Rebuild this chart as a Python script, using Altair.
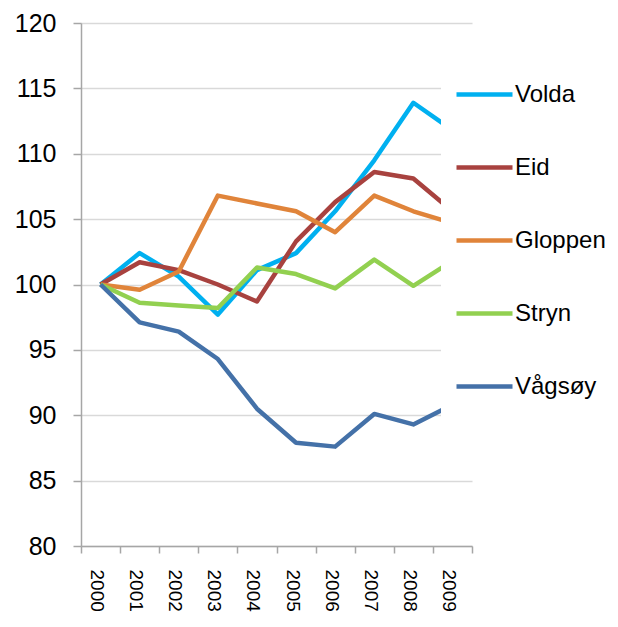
import altair as alt
import pandas as pd

years = ["2000", "2001", "2002", "2003", "2004", "2005", "2006", "2007", "2008", "2009"]
series_names = ["Volda", "Eid", "Gloppen", "Stryn", "Vågsøy"]
volda = [100, 102.4, 100.6, 97.7, 101.1, 102.4, 105.6, 109.5, 113.9, 111.8]
eid = [100, 101.7, 101.1, 100.0, 98.7, 103.3, 106.3, 108.6, 108.1, 105.6]
gloppen = [100, 99.6, 101.0, 106.8, 106.2, 105.6, 104.0, 106.8, 105.6, 104.7]
stryn = [100, 98.6, 98.4, 98.2, 101.3, 100.8, 99.7, 101.9, 99.9, 101.8]
vagsoy = [100, 97.1, 96.4, 94.3, 90.5, 87.9, 87.6, 90.1, 89.3, 90.8]
colors = ["#00B0F0", "#A8423F", "#E0843A", "#92D050", "#4471A8"]
y_ticks = [80, 85, 90, 95, 100, 105, 110, 115, 120]

rows = []
for name, vals in zip(series_names, [volda, eid, gloppen, stryn, vagsoy]):
    for yr, v in zip(years, vals):
        rows.append({"year": yr, "value": v, "series": name})
df = pd.DataFrame(rows)

FONT = "Liberation Sans"
GRAY = "#A6A6A6"

chart = alt.Chart(df).mark_line(strokeWidth=4.5, strokeJoin="round").encode(
    x=alt.X(
        "year:O",
        sort=years,
        scale=alt.Scale(type="band", paddingInner=0, paddingOuter=0),
        axis=alt.Axis(
            title=None, labelAngle=90, labelAlign="left", labelBaseline="middle",
            labelFontSize=19, labelFont=FONT, labelColor="black", labelPadding=16,
            labelOffset=-4, tickBand="extent", tickSize=7, tickColor=GRAY,
            tickWidth=1.5, domainColor=GRAY, domainWidth=1.5, grid=False,
        ),
    ),
    y=alt.Y(
        "value:Q",
        scale=alt.Scale(domain=[80, 120], nice=False, zero=False),
        axis=alt.Axis(
            title=None, values=y_ticks, labelFontSize=25, labelFont=FONT,
            labelColor="black", labelPadding=17, tickSize=8, tickColor=GRAY,
            tickWidth=1.5, domainColor=GRAY, domainWidth=1.5,
            gridColor="#D9D9D9", gridWidth=1.5,
        ),
    ),
    color=alt.Color(
        "series:N",
        scale=alt.Scale(domain=series_names, range=colors),
        legend=alt.Legend(
            title=" ", titleOrient="bottom", titleFontSize=24, titlePadding=10,
            orient="none", legendX=360, legendY=28,
            fillColor="white", padding=13, symbolType="stroke",
            symbolSize=3136, symbolStrokeWidth=4.5, labelFontSize=24,
            labelFont=FONT, labelColor="black", labelOffset=0, rowPadding=30,
        ),
    ),
).properties(
    width=391, height=523,
    autosize=alt.AutoSizeParams(type="none"),
    padding={"left": 73, "top": 15, "right": 138, "bottom": 68},
).configure_view(stroke=None)

chart.save("out.html", embed_options={"renderer": "svg", "actions": False})
